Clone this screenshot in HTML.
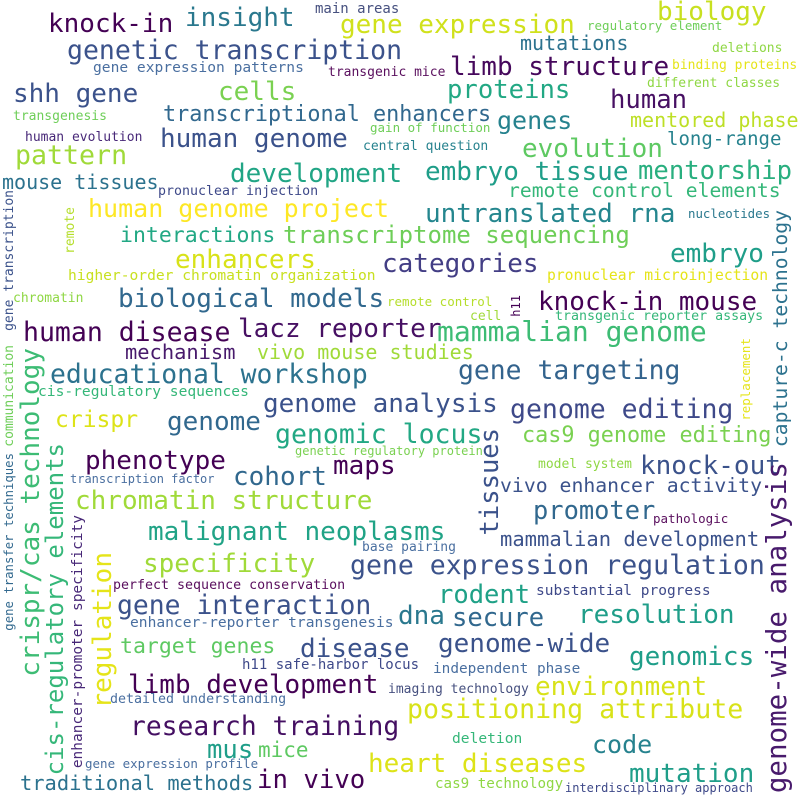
<!DOCTYPE html>
<html><head><meta charset="utf-8"><style>
html,body{margin:0;padding:0;background:#fff}
#cloud{position:relative;width:800px;height:800px;overflow:hidden;background:#fff;font-family:"DejaVu Sans Mono","Liberation Mono",monospace}
.w{position:absolute;white-space:nowrap;line-height:1}
.v{writing-mode:vertical-rl;transform:rotate(180deg)}
</style></head><body>
<div id="cloud"></div>
<script>
// word list: text, x (left / vertical center), y (center / vertical top), font size, color, vertical
const words = [
["knock-in",48,25,26,"#440154",0],
["insight",185,19,26,"#2a788e",0],
["main areas",315,10,14,"#46507f",0],
["gene expression",340,26,26,"#d0e11c",0],
["biology",657,13,26,"#c8e020",0],
["regulatory element",587,27,12.5,"#6ece58",0],
["genetic transcription",67,53,26.5,"#3b528b",0],
["mutations",520,44,20,"#2c728e",0],
["deletions",712,49,13,"#8fd744",0],
["limb structure",450,68,26,"#46085c",0],
["gene expression patterns",93,69,14.6,"#4a6fa0",0],
["transgenic mice",328,73,13,"#5a0f5e",0],
["binding proteins",672,66,13,"#e5e419",0],
["different classes",647,84,13,"#8fd744",0],
["shh gene",13,95,26,"#3b528b",0],
["cells",218,93,26,"#7ad151",0],
["proteins",447,92,25.6,"#22a884",0],
["human",610,102,25.6,"#471063",0],
["transgenesis",13,117,13,"#6ece58",0],
["transcriptional enhancers",163,116,21.8,"#31688e",0],
["genes",497,122,25,"#26828e",0],
["mentored phase",630,121,20,"#bddf26",0],
["human evolution",25,138,13,"#482878",0],
["gain of function",370,129,12.5,"#6ece58",0],
["human genome",160,140,26,"#3b528b",0],
["evolution",522,150,26,"#5ec962",0],
["long-range",667,140,19,"#26828e",0],
["central question",363,147,13,"#26828e",0],
["pattern",15,158,26.6,"#a0da39",0],
["development",230,175,26,"#21a585",0],
["embryo tissue",425,173,26,"#1f9e89",0],
["mentorship",638,173,25.6,"#29af7f",0],
["mouse tissues",2,183,20,"#2c728e",0],
["pronuclear injection",158,192,13.3,"#3e4989",0],
["remote control elements",508,192,19.7,"#35b779",0],
["human genome project",88,210,25,"#fde725",0],
["untranslated rna",425,215,26,"#24868e",0],
["nucleotides",688,215,12.4,"#2a788e",0],
["interactions",120,237,21.5,"#22a884",0],
["transcriptome sequencing",283,236,24,"#6ece58",0],
["embryo",670,255,26,"#1f9e89",0],
["enhancers",175,261,26,"#d8e219",0],
["categories",382,265,26,"#433e85",0],
["higher-order chromatin organization",68,277,14.6,"#c8e020",0],
["pronuclear microinjection",547,277,14.7,"#e5e419",0],
["chromatin",13,299,13,"#8fd744",0],
["biological models",118,300,26,"#31688e",0],
["remote control",387,303,12.5,"#b5de2b",0],
["knock-in mouse",538,303,26,"#440154",0],
["cell",470,317,13,"#a0da39",0],
["transgenic reporter assays",555,317,13.3,"#35b779",0],
["human disease",23,335,26.5,"#440154",0],
["lacz reporter",238,330,26,"#471063",0],
["mammalian genome",437,333,28,"#3dbc74",0],
["mechanism",125,353,20.4,"#481a6c",0],
["vivo mouse studies",257,353,20,"#a0da39",0],
["educational workshop",50,377,26.4,"#2c728e",0],
["gene targeting",458,373,26.4,"#33638d",0],
["cis-regulatory sequences",38,393,14.6,"#35b779",0],
["crispr",55,422,23,"#dde318",0],
["genome analysis",263,405,26,"#3b528b",0],
["genome",167,423,26,"#31688e",0],
["genome editing",510,412,26.5,"#3e4989",0],
["genomic locus",275,437,26.5,"#22a884",0],
["cas9 genome editing",522,437,21.8,"#7ad151",0],
["genetic regulatory protein",295,452,12,"#7ad151",0],
["phenotype",85,462,26,"#440154",0],
["maps",333,467,26,"#440154",0],
["cohort",233,478,26,"#31688e",0],
["model system",538,465,13,"#8fd744",0],
["knock-out",640,467,26,"#3b528b",0],
["transcription factor",70,480,12,"#4a6fa0",0],
["vivo enhancer activity",500,487,19.8,"#3b528b",0],
["chromatin structure",75,502,26,"#a0da39",0],
["promoter",533,512,25.4,"#31688e",0],
["pathologic",653,520,12.5,"#5a0f5e",0],
["malignant neoplasms",148,533,26,"#20a386",0],
["mammalian development",500,540,20.5,"#3b528b",0],
["base pairing",362,548,13,"#4a6fa0",0],
["specificity",143,565,26,"#a0da39",0],
["gene expression regulation",350,568,26.5,"#3b528b",0],
["perfect sequence conservation",113,586,13.3,"#5a0f5e",0],
["substantial progress",536,592,14.5,"#3e4989",0],
["rodent",438,597,25.5,"#1fa187",0],
["gene interaction",117,608,26.4,"#3b528b",0],
["dna",398,617,26,"#2a788e",0],
["secure",452,620,25.5,"#31688e",0],
["resolution",578,616,26,"#1f9e89",0],
["enhancer-reporter transgenesis",130,624,14.6,"#4a6fa0",0],
["target genes",120,648,21.5,"#5ec962",0],
["disease",300,650,26,"#3b528b",0],
["genome-wide",438,645,26,"#3b528b",0],
["genomics",629,658,26,"#1f9e89",0],
["h11 safe-harbor locus",242,666,14,"#3e4989",0],
["independent phase",433,670,14.4,"#4a6fa0",0],
["limb development",128,686,26,"#440154",0],
["imaging technology",388,690,13,"#46507f",0],
["environment",535,688,26,"#d8e219",0],
["detailed understanding",110,700,13.3,"#4a6fa0",0],
["positioning attribute",407,712,26.6,"#d8e219",0],
["research training",130,728,26.3,"#440f62",0],
["mus",207,752,25.6,"#1f9e89",0],
["mice",258,752,21,"#5ec962",0],
["deletion",452,740,14.6,"#35b779",0],
["code",592,746,25,"#26828e",0],
["gene expression profile",85,765,12.5,"#4a6fa0",0],
["in vivo",257,782,25.7,"#440154",0],
["heart diseases",368,765,26,"#dde318",0],
["mutation",629,775,26,"#1f9e89",0],
["traditional methods",20,784,20.4,"#2c728e",0],
["cas9 technology",435,785,14.2,"#8fd744",0],
["interdisciplinary approach",565,789,12,"#3e4989",0],
["crispr/cas technology",31,348,26,"#3dbc74",1],
["cis-regulatory elements",55,443,24,"#35b779",1],
["regulation",103,552,26,"#e5e419",1],
["enhancer-promoter specificity",78,515,14.5,"#482878",1],
["communication",9,345,13,"#6ece58",1],
["gene transfer techniques",9,453,12.3,"#31688e",1],
["gene transcription",9,190,13,"#3b528b",1],
["remote",70,207,13,"#b5de2b",1],
["h11",516,295,12,"#440154",1],
["tissues",491,428,25.5,"#3b528b",1],
["capture-c technology",781,210,19.7,"#2c728e",1],
["replacement",746,338,12.5,"#e5e419",1],
["genome-wide analysis",778,462,27.5,"#481a6c",1]
];
const cloud = document.getElementById('cloud');
words.forEach(function(w){
  const el = document.createElement('div');
  el.textContent = w[0];
  
  
  el.className = 'w' + (w[5] ? ' v' : '');
  el.style.fontSize = w[3] + 'px';
  el.style.color = w[4];
  if (w[5]) {
    el.style.left = (w[1] - w[3]/2) + 'px';
    el.style.top = w[2] + 'px';
  } else {
    el.style.left = w[1] + 'px';
    el.style.top = (w[2] - w[3]*0.55) + 'px';
  }
  cloud.appendChild(el);
});
</script>
</body></html>
